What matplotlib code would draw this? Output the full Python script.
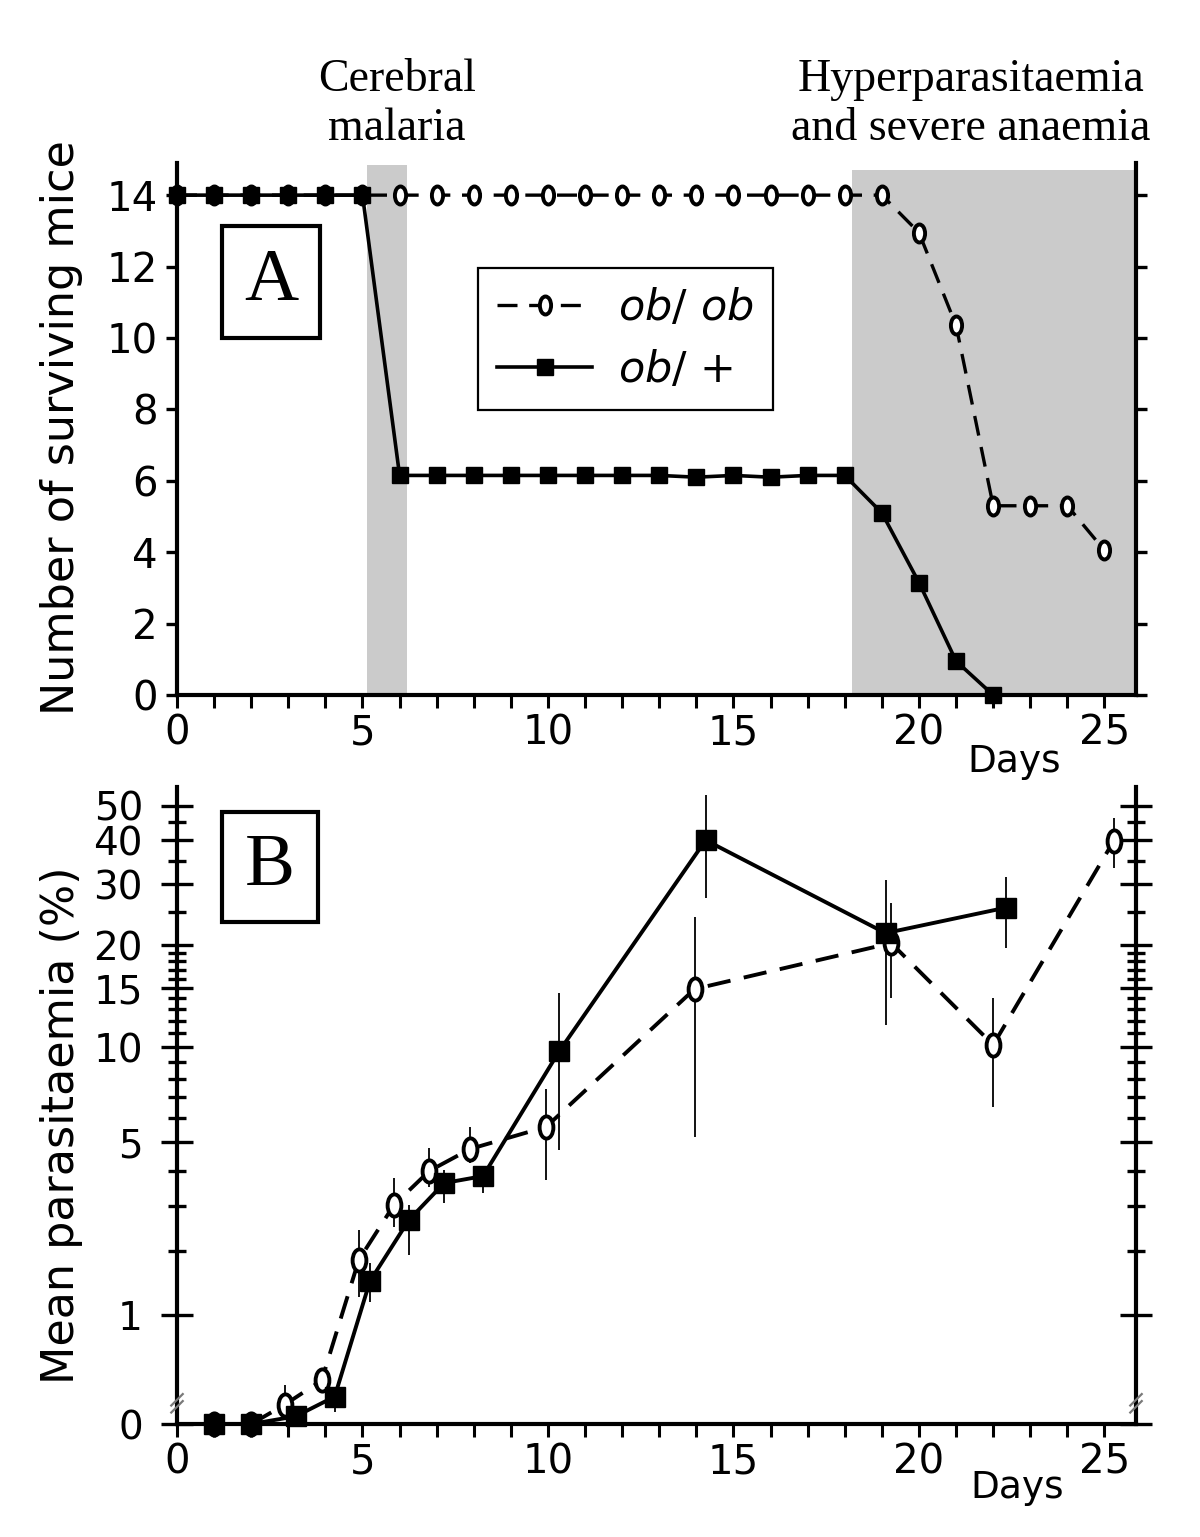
"""Survival and parasitaemia of ob/ob vs ob/+ mice (two stacked panels)."""

import numpy as np
import matplotlib

matplotlib.use("Agg")
import matplotlib.pyplot as plt
from matplotlib.path import Path
from matplotlib.patches import Rectangle
from matplotlib.ticker import FixedLocator, MultipleLocator


# ---- panel A: number of surviving mice per day
surv_days_ob = [0, 1, 2, 3, 4, 5, 6, 7, 8, 9, 10, 11, 12, 13, 14, 15, 16, 17,
                18, 19, 20, 21, 22, 23, 24, 25]
surv_ob = [14, 14, 14, 14, 14, 14, 14, 14, 14, 14, 14, 14, 14, 14, 14, 14, 14,
           14, 14, 14, 12.95, 10.35, 5.3, 5.3, 5.3, 4.05]

surv_days_plus = [0, 1, 2, 3, 4, 5, 6, 7, 8, 9, 10, 11, 12, 13, 14, 15, 16,
                  17, 18, 19, 20, 21, 22]
surv_plus = [14, 14, 14, 14, 14, 14, 6.15, 6.15, 6.15, 6.15, 6.15, 6.15, 6.15,
             6.15, 6.1, 6.15, 6.1, 6.15, 6.15, 5.1, 3.15, 0.95, 0]

cerebral_span = (5.13, 6.19)
hyper_span = (18.2, 25.8)

# ---- panel B: mean parasitaemia (%) and error bar ends
para_days_ob = [1, 2, 2.9, 3.9, 4.9, 5.85, 6.8, 7.9, 9.95, 13.95, 19.25, 22.0, 25.25]
para_ob = [0, 0, 0.13, 0.32, 1.84, 3.03, 4.0, 4.75, 5.62, 14.9, 20.3, 10.15, 39.8]
para_ob_lo = [0, 0, 0.07, 0.26, 1.24, 2.5, 3.52, 4.26, 3.72, 5.2, 14.0, 6.5, 33.3]
para_ob_hi = [0, 0, 0.28, 0.38, 2.44, 3.78, 4.79, 5.62, 7.4, 24.2, 26.5, 14.0, 46.3]

para_days_plus = [1, 2, 3.2, 4.25, 5.2, 6.25, 7.2, 8.25, 10.3, 14.25, 19.1, 22.35]
para_plus = [0, 0, 0.05, 0.19, 1.48, 2.66, 3.63, 3.84, 9.7, 40.0, 21.7, 25.7]
para_plus_lo = [0, 0, 0.02, 0.08, 1.17, 1.93, 3.08, 3.35, 4.73, 27.4, 11.65, 19.6]
para_plus_hi = [0, 0, 0.08, 0.26, 1.79, 3.03, 4.04, 4.13, 14.5, 53.7, 30.9, 31.4]

para_major_ticks = [0, 1, 5, 10, 15, 20, 30, 40, 50]
para_minor_ticks = [2, 3, 4, 6, 7, 8, 9, 11, 12, 13, 14, 16, 17, 18, 19, 25, 35, 45]

labels = [r"$\mathit{ob/\ ob}$", r"$\mathit{ob/}$ +"]


W, H = 1200, 1537
SHADE = "#cbcbcb"
DASH = (0, (6, 3.5))

plt.rcParams.update({
    "font.family": "DejaVu Sans",
    "mathtext.fontset": "dejavusans",
    "axes.linewidth": 3,
    "figure.facecolor": "white",
})


def oval_marker() -> Path:
    """Open circle drawn taller than wide, like the original 'o' symbols."""
    circle = Path.unit_circle()
    return Path(circle.vertices * np.array([0.62, 1.0]), circle.codes)


def fwd(v):
    return np.log10(np.clip(v, 0, None) + 1)


def inv(u):
    return 10 ** np.asarray(u) - 1


def px_axes(left, top, right, bottom):
    return [left / W, 1 - bottom / H, (right - left) / W, (bottom - top) / H]


def panel_box(ax, x0, y0, x1, y1, letter):
    ax.add_patch(Rectangle((x0, y0), x1 - x0, y1 - y0, transform=ax.transAxes,
                           fill=False, ec="black", lw=3, clip_on=False, zorder=6))
    ax.text((x0 + x1) / 2, (y0 + y1) / 2, letter, transform=ax.transAxes,
            ha="center", va="center", fontsize=54, family="Liberation Serif",
            zorder=7)


def break_marks(ax, x):
    for dy in (0.0, 0.011):
        ax.plot([x - 0.006, x + 0.006], [0.018 + dy, 0.036 + dy],
                transform=ax.transAxes, color="#7a7a7a", lw=1.6,
                clip_on=False, zorder=5)


oval = oval_marker()
fig = plt.figure(figsize=(W / 100, H / 100), dpi=100)

# ---------------- panel A
ax_a = fig.add_axes(px_axes(177, 163, 1136, 695))
ax_a.set_xlim(0, 25.85)
ax_a.set_ylim(0, 14.9)
ax_a.axvspan(*cerebral_span, ymax=14.85 / 14.9, color=SHADE, lw=0, zorder=0)
ax_a.axvspan(*hyper_span, ymax=14.7 / 14.9, color=SHADE, lw=0, zorder=0)

line_ob, = ax_a.plot(surv_days_ob, surv_ob, ls=DASH, lw=2.4, color="black",
                     marker=oval, ms=13, mfc="white", mec="black", mew=2.8,
                     clip_on=False, zorder=3)
line_plus, = ax_a.plot(surv_days_plus, surv_plus, ls="-", lw=2.6, color="black",
                       marker="s", ms=11, clip_on=False, zorder=4)

ax_a.set_yticks(range(0, 15, 2))
ax_a.xaxis.set_major_locator(MultipleLocator(5))
ax_a.xaxis.set_minor_locator(MultipleLocator(1))
ax_a.tick_params(axis="y", direction="out", length=8, width=2.4, pad=6,
                 labelsize=29, right=True, labelright=False)
ax_a.tick_params(axis="x", which="both", direction="out", length=9.5,
                 width=2.2, pad=4, labelsize=29, top=False)
ax_a.spines["top"].set_visible(False)

leg = ax_a.legend([line_ob, line_plus], labels, loc="upper left",
                  bbox_to_anchor=(478 / W, 1 - 268 / H),
                  bbox_transform=fig.transFigure, borderaxespad=0,
                  fontsize=31, handlelength=2.2, handletextpad=0.6,
                  labelspacing=0.45, borderpad=0.45, numpoints=1,
                  fancybox=False, framealpha=1, edgecolor="black")
leg.get_frame().set_linewidth(1.6)
leg.set_zorder(8)

panel_box(ax_a, 0.047, 0.671, 0.149, 0.882, "A")

fig.text(397 / W, 1 - 104 / H, "Cerebral\nmalaria", ha="center", va="center",
         fontsize=33, family="Liberation Serif", linespacing=1.2)
fig.text(971 / W, 1 - 104 / H, "Hyperparasitaemia\nand severe anaemia",
         ha="center", va="center", fontsize=33, family="Liberation Serif",
         linespacing=1.2)
fig.text(62 / W, 1 - 428 / H, "Number of surviving mice", rotation=90,
         ha="center", va="center", fontsize=32)
fig.text(1014 / W, 1 - 762 / H, "Days", ha="center", va="center", fontsize=27)

# ---------------- panel B
ax_b = fig.add_axes(px_axes(177, 787, 1136, 1424))
ax_b.set_yscale("function", functions=(fwd, inv))
ax_b.set_xlim(0, 25.85)
ax_b.set_ylim(0, 56.5)

ax_b.errorbar(para_days_ob, para_ob,
              yerr=[np.subtract(para_ob, para_ob_lo), np.subtract(para_ob_hi, para_ob)],
              fmt="none", ecolor="black", elinewidth=1.3, capsize=0, zorder=2)
ax_b.errorbar(para_days_plus, para_plus,
              yerr=[np.subtract(para_plus, para_plus_lo), np.subtract(para_plus_hi, para_plus)],
              fmt="none", ecolor="black", elinewidth=1.3, capsize=0, zorder=2)
ax_b.plot(para_days_ob, para_ob, ls=DASH, lw=2.8, color="black", marker=oval,
          ms=16, mfc="white", mec="black", mew=2.8, clip_on=False, zorder=3)
ax_b.plot(para_days_plus, para_plus, ls="-", lw=2.8, color="black", marker="s",
          ms=15, clip_on=False, zorder=4)

ax_b.yaxis.set_major_locator(FixedLocator(para_major_ticks))
ax_b.yaxis.set_minor_locator(FixedLocator(para_minor_ticks))
ax_b.set_yticklabels([str(t) for t in para_major_ticks])
ax_b.xaxis.set_major_locator(MultipleLocator(5))
ax_b.xaxis.set_minor_locator(MultipleLocator(1))
ax_b.tick_params(axis="y", which="major", direction="inout", length=23,
                 width=2.4, pad=13, labelsize=28, right=True, labelright=False)
ax_b.tick_params(axis="y", which="minor", direction="inout", length=13,
                 width=2.4, right=True)
ax_b.tick_params(axis="x", which="both", direction="out", length=9.5,
                 width=2.2, pad=4, labelsize=29, top=False)
ax_b.spines["top"].set_visible(False)
break_marks(ax_b, 0.0)
break_marks(ax_b, 1.0)

panel_box(ax_b, 0.047, 0.788, 0.147, 0.961, "B")

fig.text(62 / W, 1 - 1125 / H, "Mean parasitaemia (%)", rotation=90,
         ha="center", va="center", fontsize=32)
fig.text(1017 / W, 1 - 1488 / H, "Days", ha="center", va="center", fontsize=27)

fig.savefig("out.png", dpi=100)
